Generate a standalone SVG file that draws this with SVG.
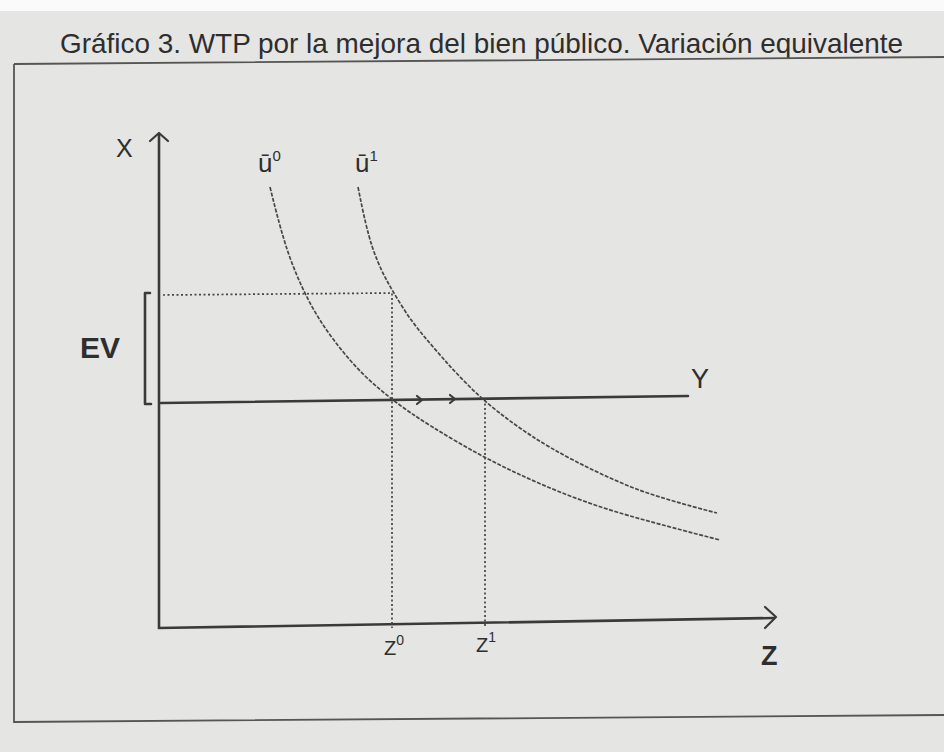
<svg xmlns="http://www.w3.org/2000/svg" width="944" height="752" viewBox="0 0 944 752">
<style>
.t{font-family:"Liberation Sans",Arial,sans-serif;fill:#2e2e2e}
.ax{stroke:#3a3a3a;stroke-width:2.6;fill:none;stroke-linecap:round}
.cv{stroke:#474747;stroke-width:1.7;fill:none;stroke-dasharray:4 1.5}
.dt{stroke:#444;stroke-width:1.7;fill:none;stroke-dasharray:2 2.5}
.hd{stroke:#3a3a3a;stroke-width:2.2;fill:none;stroke-linecap:round;stroke-linejoin:round}
</style>
<rect x="0" y="0" width="944" height="752" fill="#e5e5e3"/>
<rect x="0" y="0" width="944" height="11" fill="#fafafa"/>
<text class="t" x="60" y="53" font-size="28" textLength="843" lengthAdjust="spacingAndGlyphs">Gráfico 3. WTP por la mejora del bien público. Variación equivalente</text>
<g id="frame">
<path d="M14 64 L944 57 M14 64 L14 722 L944 715" stroke="#555" stroke-width="1.8" fill="none"/>
</g>
<g id="connectors">
<path class="ax" d="M159 134 L159 628 L774 618"/>
<path class="hd" d="M150 141 L159 133 L168 141"/>
<path class="hd" d="M765 607 L776 617 L765 628"/>
<path class="ax" d="M161 403 L688 396" stroke-width="2.2"/>
<path class="ax" d="M145 293 L145 404 M145 293 L150 293 M145 404 L151 404" stroke-width="3.5" stroke-linecap="butt"/>
<path class="dt" d="M163 295 L392 293 L392 628"/>
<path class="dt" d="M485 399 L485 626"/>
<path class="hd" stroke-width="1.3" d="M417 396 L422 400 L417 404 M450 395 L455 399 L450 403"/>
</g>
<g id="u0">
<path class="cv" d="M270 187 Q280 228 287 249 Q294 270 303 289 Q312 308 322.5 324 Q333 340 346.5 356 Q360 372 376 386 Q392 400 411 413 Q430 426 456.5 441.5 Q483 457 509 469.5 Q535 482 562.5 493 Q590 504 620 513 Q650 522 720 540"/>
<text class="t" x="258" y="172" font-size="26">ū<tspan font-size="15" dy="-11">0</tspan></text>
</g>
<g id="u1">
<path class="cv" d="M358 187 Q366 228 372 246 Q378 264 385.5 278 Q393 292 402.5 307 Q412 322 422.5 334.5 Q433 347 444.5 360 Q456 373 469.5 386.5 Q483 400 499 412.5 Q515 425 532.5 436.5 Q550 448 575 461 Q600 474 627.5 485.5 Q655 497 717 513"/>
<text class="t" x="355" y="172" font-size="26">ū<tspan font-size="15" dy="-11">1</tspan></text>
</g>
<g id="labels">
<text class="t" x="116" y="157" font-size="25">X</text>
<text class="t" x="691" y="388" font-size="27">Y</text>
<text class="t" x="761" y="665" font-size="27" font-weight="bold">Z</text>
<text class="t" x="80" y="358" font-size="30" font-weight="bold">EV</text>
<text class="t" x="384" y="655" font-size="20" fill="#444">Z<tspan font-size="14" dy="-10">0</tspan></text>
<text class="t" x="476" y="652" font-size="20" fill="#444">Z<tspan font-size="14" dy="-10">1</tspan></text>
</g>
</svg>
